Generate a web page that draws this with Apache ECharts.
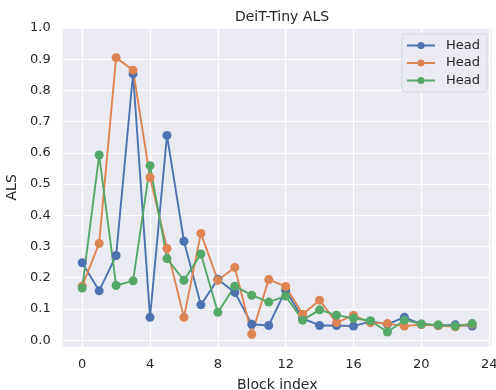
<!DOCTYPE html>
<html>
<head>
<meta charset="utf-8">
<script src="https://cdn.jsdelivr.net/npm/echarts@6/dist/echarts.min.js"></script>
<style>
  html, body { margin: 0; padding: 0; background: #fff; }
  #chart { width: 496px; height: 390px; }
</style>
</head>
<body>
<div id="chart"></div>
<script>
// data
const blocks = Array.from({ length: 24 }, (_, i) => i);
const headA = [0.248, 0.158, 0.271, 0.853, 0.073, 0.656, 0.317, 0.113, 0.195, 0.153, 0.051, 0.047,
               0.160, 0.070, 0.047, 0.047, 0.045, 0.060, 0.051, 0.073, 0.051, 0.047, 0.049, 0.045];
const headB = [0.173, 0.310, 0.905, 0.865, 0.521, 0.294, 0.073, 0.342, 0.192, 0.233, 0.019, 0.194,
               0.172, 0.083, 0.128, 0.056, 0.079, 0.056, 0.053, 0.045, 0.050, 0.047, 0.043, 0.051];
const headC = [0.167, 0.593, 0.175, 0.190, 0.559, 0.261, 0.192, 0.276, 0.089, 0.173, 0.144, 0.122,
               0.141, 0.064, 0.097, 0.080, 0.070, 0.062, 0.026, 0.064, 0.052, 0.049, 0.045, 0.053];
const xTicks = [0, 4, 8, 12, 16, 20, 24];
const yTicks = [0, 0.1, 0.2, 0.3, 0.4, 0.5, 0.6, 0.7, 0.8, 0.9, 1.0];

const colors = ['#4C72B0', '#DD8452', '#55A868'];
const names = ['Head1', 'Head2', 'Head3'];
const txt = '#262626';
const font = 'DejaVu Sans';

const chart = echarts.init(document.getElementById('chart'));

function mkSeries(name, vals, color) {
    return {
        name: name,
        type: 'line',
        data: blocks.map((b, i) => [b, vals[i]]),
        symbol: 'circle',
        symbolSize: 9,
        itemStyle: { color: color },
        lineStyle: { color: color, width: 1.9 },
        emphasis: { disabled: true },
        animation: false
    };
}

chart.setOption({
    textStyle: { fontFamily: font, color: txt },
    title: {
        text: 'DeiT-Tiny ALS',
        left: 277,
        top: 5,
        textAlign: 'center',
        textStyle: { fontFamily: font, fontSize: 14, fontWeight: 'normal', color: txt }
    },
    legend: {
        data: names,
        formatter: () => 'Head',
        orient: 'vertical',
        left: 402,
        top: 34,
        padding: [5, 7, 5, 4],
        itemGap: 4.5,
        itemWidth: 28,
        itemHeight: 9,
        backgroundColor: 'rgba(234,234,242,0.85)',
        borderColor: '#d5d5dc',
        borderWidth: 1,
        borderRadius: 3,
        textStyle: { fontFamily: font, fontSize: 13, color: txt, padding: [0, 0, 0, 6] }
    },
    grid: {
        left: 62.7,
        right: 4.3,
        top: 28,
        bottom: 43.3,
        outerBoundsMode: 'none',
        containLabel: false,
        show: true,
        backgroundColor: '#EAEAF2',
        borderWidth: 0
    },
    xAxis: {
        type: 'value',
        min: -1.15,
        max: 24.15,
        name: 'Block index',
        nameLocation: 'middle',
        nameGap: 32,
        nameTextStyle: { fontFamily: font, fontSize: 14, color: txt },
        axisLine: { show: false },
        axisTick: { show: false, customValues: xTicks },
        axisLabel: { customValues: xTicks, fontFamily: font, fontSize: 13, color: txt, margin: 11 },
        splitLine: { show: true, lineStyle: { color: '#fff', width: 1.2 } }
    },
    yAxis: {
        type: 'value',
        min: -0.021,
        max: 1.0,
        name: 'ALS',
        nameLocation: 'middle',
        nameGap: 37,
        nameTextStyle: { fontFamily: font, fontSize: 14, color: txt },
        axisLine: { show: false },
        axisTick: { show: false, customValues: yTicks },
        axisLabel: {
            customValues: yTicks,
            formatter: v => v.toFixed(1),
            fontFamily: font, fontSize: 13, color: txt, margin: 12
        },
        splitLine: { show: true, lineStyle: { color: '#fff', width: 1.2 } }
    },
    series: [
        mkSeries(names[0], headA, colors[0]),
        mkSeries(names[1], headB, colors[1]),
        mkSeries(names[2], headC, colors[2])
    ]
});
</script>
</body>
</html>
